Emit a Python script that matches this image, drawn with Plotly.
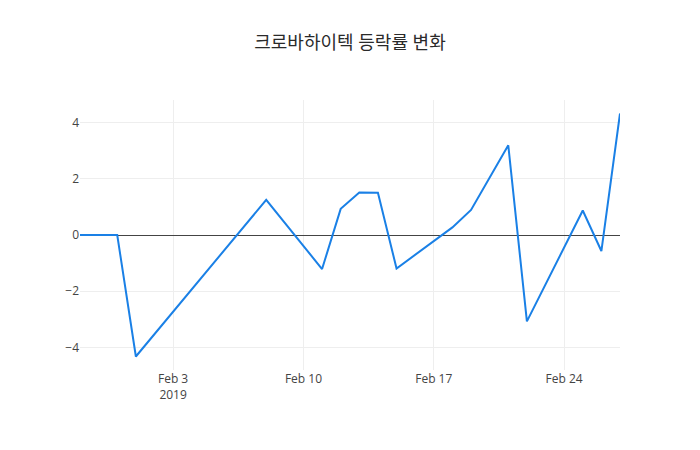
import plotly.graph_objects as go

# 크로바하이텍 daily change rate (%)
dates = [
    "2019-01-29", "2019-01-30", "2019-01-31", "2019-02-01",
    "2019-02-08", "2019-02-11", "2019-02-12", "2019-02-13",
    "2019-02-14", "2019-02-15", "2019-02-18", "2019-02-19",
    "2019-02-21", "2019-02-22", "2019-02-25", "2019-02-26",
    "2019-02-27",
]
change_rate = [
    0.0, 0.0, 0.0, -4.32,
    1.25, -1.21, 0.93, 1.51,
    1.50, -1.19, 0.27, 0.89,
    3.19, -3.07, 0.87, -0.57,
    4.32,
]

fig = go.Figure(
    go.Scatter(
        x=dates,
        y=change_rate,
        mode="lines",
        line=dict(color="#1a80e6", width=2),
    )
)
# page body has an 8px margin, so shrink the figure to keep the plot area in place
fig.update_layout(
    template="none",
    width=692,
    height=442,
    title=dict(text="크로바하이텍 등락률 변화", xref="paper", x=0.5,
               xanchor="center", y=0.921, yanchor="middle",
               font=dict(size=18, color="#2a2a2a")),
    margin=dict(l=72, r=80, t=92, b=80),
    font=dict(family="Open Sans, Noto Sans CJK KR", color="#444"),
    paper_bgcolor="white",
    plot_bgcolor="white",
)
fig.update_xaxes(gridcolor="#eee", showline=False, ticks="")
fig.update_yaxes(gridcolor="#eee", zeroline=True, zerolinecolor="#444",
                 zerolinewidth=1, showline=False, ticks="")

fig.write_html("out.html")
